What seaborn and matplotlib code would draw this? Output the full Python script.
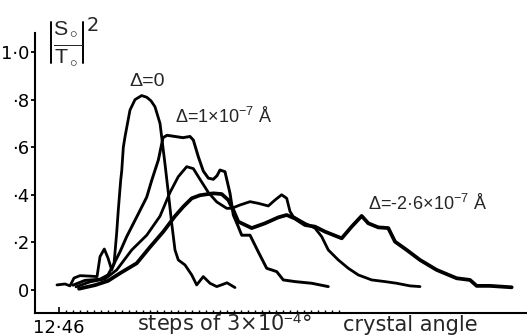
import numpy as np
import pandas as pd
import matplotlib
matplotlib.use("Agg")
import matplotlib.pyplot as plt
from matplotlib.lines import Line2D
import seaborn as sns

# ---- data (x in steps of 3e-4 deg from 12.46, y = |S0/T0|^2) ----
a_x = [-0.29, 0.86, 1.57, 2.14, 3.0, 4.43, 5.43, 5.86, 6.47, 7.0, 7.53, 7.86, 8.24, 8.47,
       8.81, 8.96, 9.19, 9.43, 10.14, 10.86, 11.81, 12.53, 13.14, 13.71, 14.43, 15.14,
       15.61, 16.1, 16.57, 17.04, 18.0, 18.96, 19.67, 20.61, 21.57, 22.53, 23.29, 24.0, 25.14]
a_y = [.021, .025, .017, .05, .06, .058, .056, .14, .172, .134, .084, .11, .24, .336,
       .46, .50, .60, .644, .756, .80, .817, .81, .795, .77, .70, .53,
       .41, .28, .168, .126, .105, .063, .021, .056, .028, .014, .022, .03, .01]

b_x = [2.0, 3.71, 5.86, 7.0, 7.76, 8.71, 9.67, 11.33, 12.53, 13.24, 14.19, 14.86, 15.43,
       16.57, 17.71, 18.71, 19.19, 19.9, 20.61, 21.33, 22.04, 22.57, 23.0, 23.71, 24.43,
       24.9, 25.61, 26.1, 27.29, 28.47, 29.67, 31.1, 32.04, 33.71, 36.1, 38.47]
b_y = [.02, .04, .045, .063, .105, .16, .224, .32, .39, .46, .546, .64, .65,
       .645, .64, .645, .63, .56, .50, .47, .465, .48, .504, .497, .406,
       .315, .266, .23, .23, .16, .091, .077, .042, .035, .028, .014]

c_x = [2.43, 4.43, 6.57, 8.24, 10.39, 12.53, 14.43, 15.86, 17.04, 18.24, 19.19, 20.14,
       21.33, 22.53, 23.96, 24.67, 25.86, 27.29, 28.47, 29.9, 30.86, 31.81, 32.53, 33.0,
       33.47, 35.14, 36.57, 37.53, 38.47, 39.9, 41.33, 42.76, 44.67, 46.57, 48.24, 50.14, 51.57]
c_y = [.013, .034, .046, .084, .168, .23, .31, .41, .476, .518, .51, .465,
       .41, .37, .343, .343, .357, .371, .364, .353, .378, .40, .385, .33,
       .308, .28, .26, .224, .168, .126, .091, .063, .042, .035, .028, .017, .014]

d_x = [2.86, 5.14, 7.0, 8.71, 11.1, 13.0, 14.9, 16.57, 17.76, 18.96, 20.14, 22.04, 23.24,
       24.19, 24.9, 25.61, 27.53, 29.43, 31.33, 32.53, 33.71, 35.14, 36.57, 38.0, 40.39,
       41.81, 43.24, 44.19, 45.61, 47.04, 48.0, 49.67, 51.57, 53.96, 56.81, 58.71, 59.67,
       61.57, 64.67]
d_y = [.005, .02, .038, .07, .112, .18, .245, .31, .35, .385, .398, .406, .403,
       .378, .336, .287, .26, .28, .305, .315, .30, .273, .266, .245, .217,
       .266, .311, .28, .263, .26, .203, .168, .126, .084, .049, .042, .017,
       .017, .011]

y_ticks = [0, 0.2, 0.4, 0.6, 0.8, 1.0]
y_tick_labels = ["0", "·2", "·4", "·6", "·8", "1·0"]
x_start_label = "12·46"

sns.set_theme(style="white")
plt.rcParams["font.family"] = ["DejaVu Sans"]
plt.rcParams["mathtext.fontset"] = "custom"
plt.rcParams["mathtext.rm"] = "Liberation Sans"
plt.rcParams["mathtext.it"] = "Liberation Sans:italic"
plt.rcParams["mathtext.bf"] = "Liberation Sans:bold"

W, H = 527, 336
fig = plt.figure(figsize=(W / 100, H / 100), dpi=100)
ax = fig.add_axes([35 / W, 23 / H, 492 / W, 280 / H])

series = [(a_x, a_y, 2.0), (b_x, b_y, 2.1), (c_x, c_y, 2.0), (d_x, d_y, 2.7)]
for xs, ys, lw in series:
    df = pd.DataFrame({"x": xs, "y": ys})
    sns.lineplot(data=df, x="x", y="y", ax=ax, color="black", lw=lw,
                 sort=False, estimator=None)

ax.set_xlim(-3.43, 66.86)
ax.set_ylim(-0.097, 1.08)
ax.set_xlabel("")
ax.set_ylabel("")

for s in ["top", "right"]:
    ax.spines[s].set_visible(False)
for s in ["left", "bottom"]:
    ax.spines[s].set_color("black")
    ax.spines[s].set_linewidth(1.5)

ax.set_yticks(y_ticks)
ax.set_yticklabels(y_tick_labels, fontsize=13)
ax.tick_params(axis="y", direction="out", length=3, width=1.3, pad=1, colors="black",
               left=True)

ax.set_xticks([0])
ax.set_xticklabels([x_start_label], fontsize=13)
ax.set_xticks(np.arange(0, 41, 1), minor=True)
ax.tick_params(axis="x", which="major", direction="in", length=4, width=1.2, pad=4,
               colors="black", bottom=True)
ax.tick_params(axis="x", which="minor", direction="in", length=2, width=1.0,
               colors="black", bottom=True)

def fx(px):
    return px / W

def fy(py):
    return 1 - py / H

# y-axis quantity label |S0/T0|^2
for bx in (51, 83):
    fig.add_artist(Line2D([fx(bx), fx(bx)], [fy(22), fy(63)], color="black", lw=1.4))
fig.text(fx(67.5), fy(43), r"$\frac{\mathrm{S}_\circ}{\mathrm{T}_\circ}$", fontsize=22,
         ha="center", va="center")
fig.text(fx(87), fy(31), "2", fontsize=14, ha="left", va="baseline")

lab = ["Liberation Sans", "DejaVu Sans"]
fig.text(fx(147), fy(81), "Δ=0", fontsize=14, ha="center", va="center", family=lab)
fig.text(fx(175), fy(123), r"Δ=1×10$^{-7}$ Å", fontsize=13, ha="left", va="baseline",
         family=lab)
fig.text(fx(368), fy(210), r"Δ=-2·6×10$^{-7}$ Å", fontsize=13, ha="left", va="baseline",
         family=lab)
fig.text(fx(137), fy(331), r"steps of 3×10$^{-4}$°", fontsize=15, ha="left",
         va="baseline")
fig.text(fx(343), fy(331), "crystal angle", fontsize=15, ha="left", va="baseline")

fig.savefig("out.png", dpi=100, facecolor="white")
